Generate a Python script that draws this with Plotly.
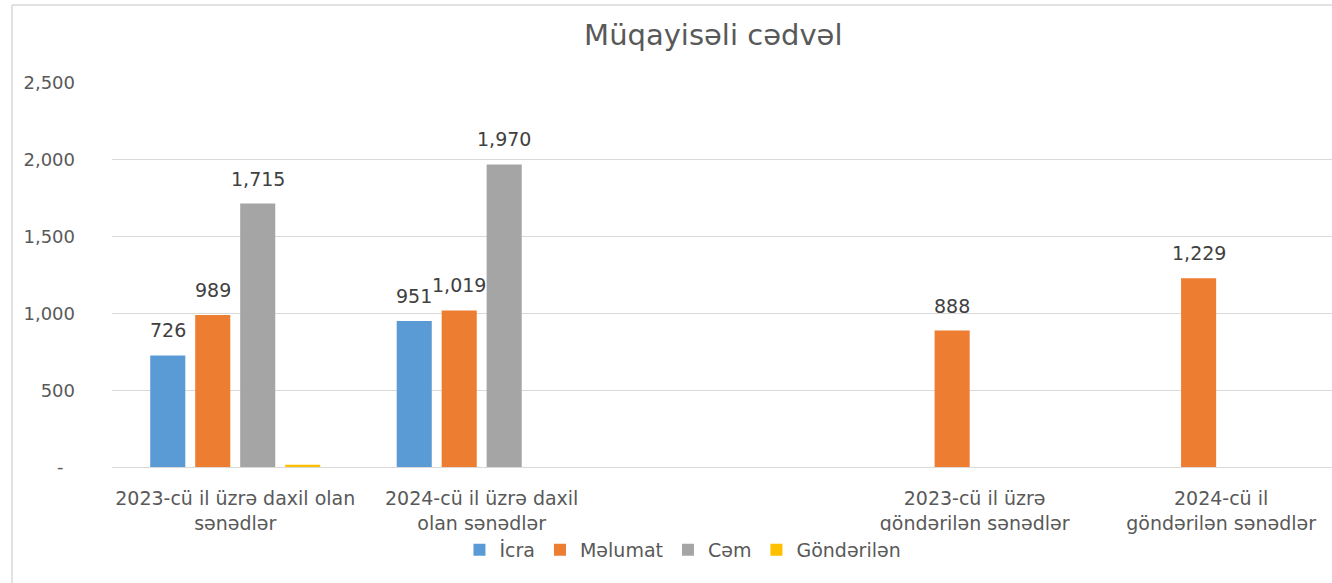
import plotly.graph_objects as go

categories = [
    "2023-cü il üzrə daxil olan<br>sənədlər",
    "2024-cü il üzrə daxil<br>olan sənədlər",
    " ",
    "2023-cü il üzrə<br>göndərilən sənədlər",
    "2024-cü il<br>göndərilən sənədlər",
]
icra = [726, 951, None, None, None]
melumat = [989, 1019, None, 888, 1229]
cem = [1715, 1970, None, None, None]
gonderilen = [15, None, None, None, None]

series = [
    ("İcra", icra, "#5B9BD5", True),
    ("Məlumat", melumat, "#ED7D31", True),
    ("Cəm", cem, "#A5A5A5", True),
    ("Göndərilən", gonderilen, "#FFC000", False),
]

tickvals = [0, 500, 1000, 1500, 2000, 2500]
ticktext = ["-  ", "500", "1,000", "1,500", "2,000", "2,500"]

FONT = "DejaVu Sans"

W, H = 1332, 583
ML, MR, MT, MB = 112, 0, 83, 116
XR = [-0.5, 4.45]
BARGAP = 0.27

fig = go.Figure()
for name, vals, color, show_lbl in series:
    fig.add_trace(go.Bar(
        name=name, x=categories, y=vals, marker_color=color,
        marker_line_width=0,
    ))

# data labels above bars (centred over each bar of the group)
px_per_cat = (W - ML - MR) / (XR[1] - XR[0])
slot = px_per_cat * (1 - BARGAP) / len(series)
annotations = []
for i, (name, vals, color, show_lbl) in enumerate(series):
    if not show_lbl:
        continue
    off = (i - (len(series) - 1) / 2) * slot
    for cat, v in zip(categories, vals):
        if v is None:
            continue
        annotations.append(dict(
            x=cat, y=v, xref="x", yref="y", text=f"{v:,}", showarrow=False,
            xshift=off, yshift=25, yanchor="middle", xanchor="center",
            font=dict(size=19, color="#404040", family=FONT),
        ))

fig.update_layout(
    width=W, height=H,
    margin=dict(l=ML, r=MR, t=MT, b=MB),
    paper_bgcolor="white", plot_bgcolor="white",
    barmode="group", bargap=BARGAP, bargroupgap=0.22,
    font=dict(family=FONT, color="#595959"),
    title=dict(text="Müqayisəli cədvəl", x=0.5355, xanchor="center",
               y=1 - 35 / H, yanchor="middle",
               font=dict(size=29, color="#595959", family=FONT)),
    legend=dict(orientation="h", x=0.468, xanchor="center", y=-0.216, yanchor="middle",
                font=dict(size=19, color="#595959", family=FONT),
                itemwidth=30, tracegroupgap=0, traceorder="normal"),
    showlegend=True,
    annotations=annotations,
)
fig.update_xaxes(
    type="category", range=XR, showgrid=False,
    showline=True, linecolor="#D9D9D9", linewidth=1,
    tickfont=dict(size=19, color="#595959", family=FONT),
    ticks="", ticklabelstandoff=14,
)
fig.update_yaxes(
    range=[0, 2500], tickvals=tickvals, ticktext=ticktext,
    showgrid=True, gridcolor="#D9D9D9", gridwidth=1,
    zeroline=False, showline=False, ticks="",
    tickfont=dict(size=18, color="#595959", family=FONT),
    ticklabelstandoff=36,
)
# chart container border (left and top edges)
pw, ph = W - ML - MR, H - MT - MB
fig.add_shape(type="line", xref="paper", yref="paper",
              x0=(12 - ML) / pw, x1=(12 - ML) / pw,
              y0=-MB / ph, y1=(H - MB - 5) / ph,
              line=dict(color="#D9D9D9", width=1.5))
fig.add_shape(type="line", xref="paper", yref="paper",
              x0=(12 - ML) / pw, x1=1.0,
              y0=(H - MB - 5) / ph, y1=(H - MB - 5) / ph,
              line=dict(color="#D9D9D9", width=1.5))

fig.write_html(
    "out.html",
    config={"displayModeBar": False},
    post_script="document.body.style.margin='0';document.body.style.overflow='hidden';",
)
